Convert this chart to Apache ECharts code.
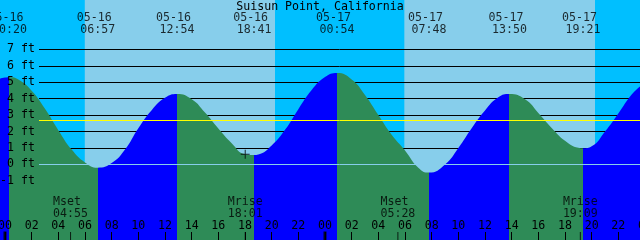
<!DOCTYPE html>
<html><head><meta charset="utf-8">
<script src="https://cdn.jsdelivr.net/npm/echarts@6/dist/echarts.min.js"></script>
<style>html,body{margin:0;padding:0;background:#00BFFF}#c{width:640px;height:240px}</style>
</head><body><div id="c"></div>
<script>
// ---- data ----
const chartTitle = 'Suisun Point, California';
const tideEventTimes = ['05-16 00:20','05-16 06:57','05-16 12:54','05-16 18:41','05-17 00:54','05-17 07:48','05-17 13:50','05-17 19:21'];
const tideEventKinds = ['high','low','high','low','high','low','high','low'];
const tideEventHeights = [5.30, -0.20, 4.28, 0.57, 5.56, -0.50, 4.28, 0.98];
// water level (hours after 05-16 00:00, feet), besides the events
const curveHours   = [-0.45, 0, 1, 2, 3, 4, 5, 6, 8, 9, 10, 11, 12, 14, 15, 16, 17, 18, 19, 20, 21, 22, 23, 24, 26, 27, 28, 29, 30, 31, 33, 34, 35, 36, 37, 39, 40, 41, 42, 43, 44, 45, 46, 47, 47.7];
const curveHeights = [5.2, 5.28, 5.16, 4.48, 3.38, 2.08, 0.9, 0.12, 0.08, 0.9, 2.2, 3.3, 4.05, 3.96, 3.15, 2.18, 1.29, 0.62, 0.6, 1.15, 2.1, 3.36, 4.52, 5.31, 5.17, 4.22, 3.0, 1.8, 0.85, -0.2, 0.0, 1.0, 2.2, 3.28, 4.08, 3.96, 3.13, 2.22, 1.44, 1.01, 1.1, 2.0, 3.1, 4.25, 4.78];
const moonEventTimes = ['05-16 04:55','05-16 18:01','05-17 05:28','05-17 19:09'];
const moonEventNames = ['Mset','Mrise','Mset','Mrise'];
const sunriseTimes = ['05-16 05:59','05-17 05:57'];
const sunsetTimes  = ['05-16 20:15','05-17 20:15'];
const midnightTimes = ['05-16 00:00','05-17 00:00'];
const datumLevel = 0;
const meanSeaLevel = 2.7;
const nowTime = '05-16 18:01';
const nowHeight = 0.62;
const timeRange = [-2, 50];      // hours
const depthRange = [-4.6, 10];   // feet (whole picture)
const depthLabelRange = [-1, 7]; // feet with labelled lines

// ---- styles ----
const FONT = 'DejaVu Sans Mono';
const FS = 11.6;
const NIGHT = '#00BFFF', DAY = '#87CEEB', FALL = '#2E8B57', RISE = '#0000FF';

function toHours(s) {
  const [md, hm] = s.split(' ');
  const d = +md.split('-')[1];
  const [h, m] = hm.split(':').map(Number);
  return (d - 16) * 24 + h + m / 60;
}
const evH = tideEventTimes.map(toHours);
const curve = curveHours.map((t, i) => [t, curveHeights[i]])
  .concat(evH.map((t, i) => [t, tideEventHeights[i]]))
  .sort((a, b) => a[0] - b[0]);

const pieces = [{ lt: evH[0], color: tideEventKinds[0] === 'high' ? RISE : FALL }];
for (let i = 0; i < evH.length; i++) {
  const p = { gte: evH[i], color: tideEventKinds[i] === 'high' ? FALL : RISE };
  if (i < evH.length - 1) p.lt = evH[i + 1];
  pieces.push(p);
}

const rises = sunriseTimes.map(toHours), sets = sunsetTimes.map(toHours);
const sky = [];
let cur = timeRange[0];
for (let i = 0; i < rises.length; i++) {
  sky.push([cur, rises[i], 0]);
  sky.push([rises[i], sets[i], 1]);
  cur = sets[i];
}
sky.push([cur, timeRange[1], 0]);

const pxPerHour = 640 / 48;
const zeroX = 5;
const gridLeft = zeroX + timeRange[0] * pxPerHour;
const gridRight = 640 - (zeroX + timeRange[1] * pxPerHour);
const pxPerFt = 240 / (depthRange[1] - depthRange[0]);
const g1Top = (depthRange[1] - depthLabelRange[1]) * pxPerFt;
const g1Bottom = (depthLabelRange[0] - depthRange[0]) * pxPerFt;

const pad2 = n => String(n).padStart(2, '0');
const chart = echarts.init(document.getElementById('c'), null, { renderer: 'canvas' });
chart.setOption({
  animation: false,
  backgroundColor: NIGHT,
  title: { text: chartTitle, left: 'center', top: 0.5, padding: 0,
    textStyle: { fontFamily: FONT, fontSize: FS, fontWeight: 'normal', color: '#000' } },
  grid: [
    { left: gridLeft, right: gridRight, top: 0, bottom: 0, containLabel: false, outerBoundsMode: 'none' },
    { left: 39, right: 0, top: g1Top, bottom: g1Bottom, containLabel: false, outerBoundsMode: 'none' }
  ],
  xAxis: [
    { gridIndex: 0, type: 'value', position: 'bottom', min: timeRange[0], max: timeRange[1], interval: 2, z: 4,
      axisLine: { show: false, onZero: false }, splitLine: { show: false },
      axisTick: { inside: true, length: 8, lineStyle: { color: '#000', width: 1 } },
      axisLabel: { inside: true, margin: 14.5, verticalAlign: 'middle', color: '#000', fontFamily: FONT, fontSize: FS,
        formatter: v => pad2(((v % 24) + 24) % 24) } },
    { gridIndex: 1, type: 'value', min: 0, max: 1, show: false }
  ],
  yAxis: [
    { gridIndex: 0, type: 'value', min: depthRange[0], max: depthRange[1], show: false },
    { gridIndex: 1, type: 'value', position: 'left', min: depthLabelRange[0], max: depthLabelRange[1], interval: 1, z: 1,
      axisLine: { show: false, onZero: false }, axisTick: { show: false }, axisLabel: { show: false },
      splitLine: { show: true, lineStyle: { color: '#000', width: 1 } } },
    { gridIndex: 1, type: 'value', position: 'left', offset: 0, min: depthLabelRange[0], max: depthLabelRange[1], interval: 1, z: 4,
      axisLine: { show: false, onZero: false }, axisTick: { show: false }, splitLine: { show: false },
      axisLabel: { margin: 4, color: '#000', fontFamily: FONT, fontSize: FS, formatter: '{value} ft' } }
  ],
  visualMap: { type: 'piecewise', show: false, dimension: 0, seriesIndex: 1, pieces: pieces },
  series: [
    { type: 'custom', xAxisIndex: 0, yAxisIndex: 0, z: 0, silent: true, data: sky,
      renderItem: (params, api) => {
        const a = api.coord([api.value(0), depthRange[1]]);
        const b = api.coord([api.value(1), depthRange[0]]);
        return { type: 'rect', shape: { x: a[0], y: a[1], width: b[0] - a[0], height: b[1] - a[1] },
          style: { fill: api.value(2) ? DAY : NIGHT } };
      } },
    { type: 'line', xAxisIndex: 0, yAxisIndex: 0, z: 2, data: curve, smooth: 0.5, showSymbol: false, silent: true,
      lineStyle: { opacity: 0 }, areaStyle: { opacity: 1, origin: 'start' } },
    { type: 'line', xAxisIndex: 1, yAxisIndex: 1, z: 3, data: [], silent: true,
      markLine: { silent: true, symbol: ['none', 'none'], label: { show: false }, animation: false,
        data: [ { yAxis: datumLevel, lineStyle: { color: DAY, width: 1, type: 'solid' } },
                { yAxis: meanSeaLevel, lineStyle: { color: '#FFFF00', width: 1, type: 'solid' } } ] } },
    { type: 'scatter', xAxisIndex: 0, yAxisIndex: 0, z: 5, silent: true, symbolSize: 0,
      data: evH.map(t => [t, depthRange[1]]),
      label: { show: true, position: 'bottom', distance: 12, color: '#000', fontFamily: FONT, fontSize: FS,
        lineHeight: 12, align: 'center',
        formatter: p => { const s = tideEventTimes[p.dataIndex].split(' '); return s[0] + ' \n' + s[1]; } } },
    { type: 'scatter', xAxisIndex: 0, yAxisIndex: 0, z: 5, silent: true, symbolSize: 0,
      data: moonEventTimes.map(s => [toHours(s), depthRange[0]]),
      label: { show: true, position: 'top', distance: 20, color: '#000', fontFamily: FONT, fontSize: FS,
        lineHeight: 12, align: 'center',
        formatter: p => moonEventNames[p.dataIndex].padEnd(5) + '\n' + moonEventTimes[p.dataIndex].split(' ')[1] } },
    { type: 'scatter', xAxisIndex: 0, yAxisIndex: 0, z: 5, silent: true, symbol: 'rect', symbolSize: [1, 16],
      itemStyle: { color: '#000' }, data: moonEventTimes.map(s => [toHours(s), depthRange[0]]) },
    { type: 'scatter', xAxisIndex: 0, yAxisIndex: 0, z: 5, silent: true, symbol: 'rect', symbolSize: [3, 17],
      itemStyle: { color: '#000' }, data: midnightTimes.map(s => [toHours(s), depthRange[0]]) },
    { type: 'scatter', xAxisIndex: 0, yAxisIndex: 0, z: 6, silent: true,
      symbol: 'path://M0,4h9v1h-9z M4,0h1v9h-1z', symbolSize: 9, itemStyle: { color: '#000' },
      data: [[toHours(nowTime), nowHeight]] }
  ]
});
</script></body></html>
